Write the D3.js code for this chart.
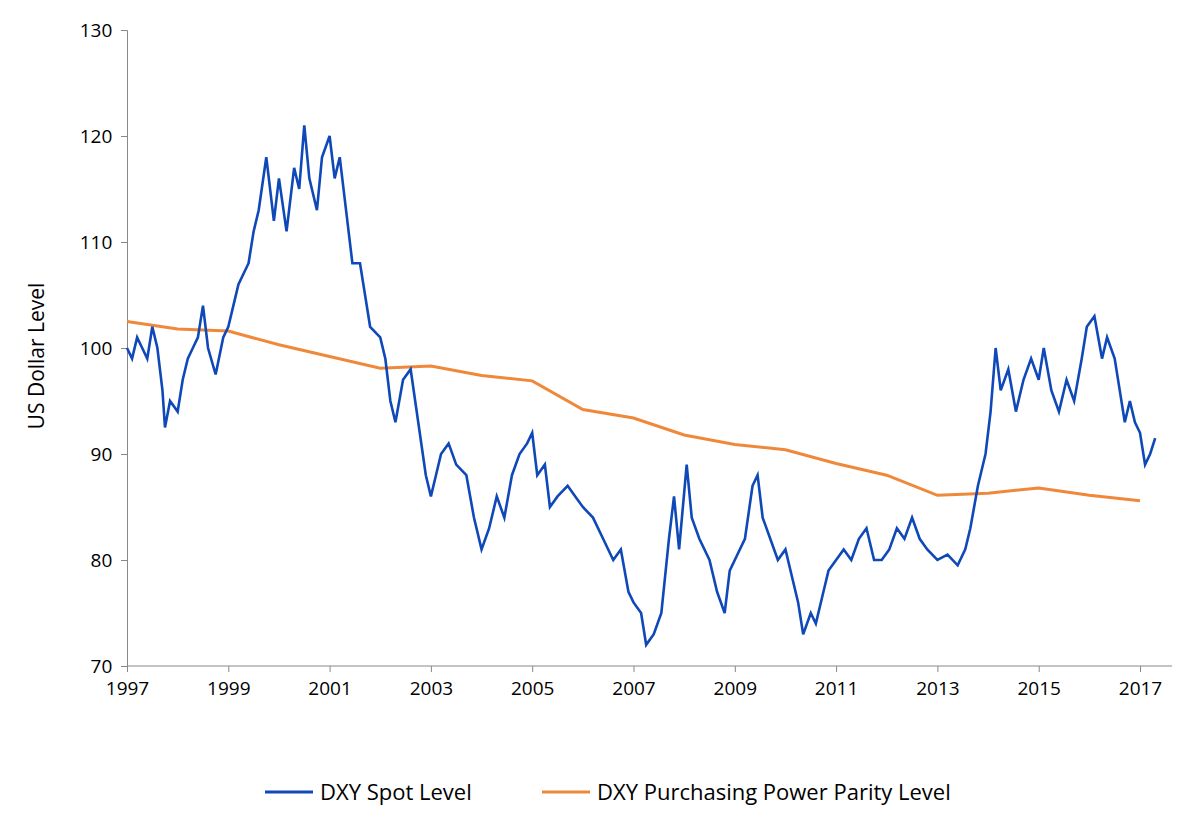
<!DOCTYPE html>
<html>
<head>
<meta charset="utf-8">
<script src="https://cdn.jsdelivr.net/npm/d3@7"></script>
<style>
body { margin: 0; background: #fff; }
text { font-family: "Open Sans", "Noto Sans", sans-serif; fill: #000; }
</style>
</head>
<body>
<div id="chart"></div>
<script>
// spot level (decimal year, value)
var spotYears = [1997.0,1997.1,1997.2,1997.3,1997.4,1997.5,1997.6,1997.7,1997.75,1997.85,1998.0,1998.1,1998.2,1998.3,1998.4,1998.5,1998.6,1998.75,1998.9,1999.0,1999.1,1999.2,1999.4,1999.5,1999.6,1999.75,1999.85,1999.9,2000.0,2000.15,2000.3,2000.4,2000.5,2000.6,2000.75,2000.85,2001.0,2001.1,2001.2,2001.3,2001.45,2001.6,2001.7,2001.8,2002.0,2002.1,2002.2,2002.3,2002.45,2002.6,2002.75,2002.9,2003.0,2003.1,2003.2,2003.35,2003.5,2003.7,2003.85,2004.0,2004.15,2004.3,2004.45,2004.6,2004.75,2004.9,2005.0,2005.1,2005.25,2005.35,2005.5,2005.7,2005.85,2006.0,2006.2,2006.4,2006.6,2006.75,2006.9,2007.0,2007.15,2007.25,2007.4,2007.55,2007.7,2007.8,2007.9,2008.05,2008.15,2008.3,2008.5,2008.65,2008.8,2008.9,2009.0,2009.2,2009.35,2009.45,2009.55,2009.7,2009.85,2010.0,2010.15,2010.25,2010.35,2010.5,2010.6,2010.75,2010.85,2011.0,2011.15,2011.3,2011.45,2011.6,2011.75,2011.9,2012.05,2012.2,2012.35,2012.5,2012.65,2012.8,2013.0,2013.2,2013.4,2013.55,2013.65,2013.8,2013.95,2014.05,2014.15,2014.25,2014.4,2014.55,2014.7,2014.85,2015.0,2015.1,2015.25,2015.4,2015.55,2015.7,2015.85,2015.95,2016.1,2016.25,2016.35,2016.5,2016.6,2016.7,2016.8,2016.9,2017.0,2017.1,2017.2,2017.3];
var spotValues = [100,99,101,100,99,102,100,96,92.5,95,94,97,99,100,101,104,100,97.5,101,102,104,106,108,111,113,118,114,112,116,111,117,115,121,116,113,118,120,116,118,114,108,108,105,102,101,99,95,93,97,98,93,88,86,88,90,91,89,88,84,81,83,86,84,88,90,91,92,88,89,85,86,87,86,85,84,82,80,81,77,76,75,72,73,75,82,86,81,89,84,82,80,77,75,79,80,82,87,88,84,82,80,81,78,76,73,75,74,77,79,80,81,80,82,83,80,80,81,83,82,84,82,81,80,80.5,79.5,81,83,87,90,94,100,96,98,94,97,99,97,100,96,94,97,95,99,102,103,99,101,99,96,93,95,93,92,89,90,91.5];

// purchasing power parity level, yearly
var pppYears = [1997,1998,1999,2000,2001,2002,2003,2004,2005,2006,2007,2008,2009,2010,2011,2012,2013,2014,2015,2016,2017];
var pppValues = [102.5,101.8,101.6,100.3,99.2,98.1,98.3,97.4,96.9,94.2,93.4,91.8,90.9,90.4,89.1,88.0,86.1,86.3,86.8,86.1,85.6];

var xTicks = [1997,1999,2001,2003,2005,2007,2009,2011,2013,2015,2017];
var yTicks = [70,80,90,100,110,120,130];

var svgWidth = 1200, svgHeight = 828;
var svg = d3.select("#chart").append("svg")
    .attr("width", svgWidth)
    .attr("height", svgHeight);

var x = d3.scaleLinear().domain([1997, 2017]).range([127, 1140]);
var y = d3.scaleLinear().domain([70, 130]).range([666, 30]);

// axes
var xAxis = svg.append("g")
    .attr("transform", "translate(0,666)")
    .call(d3.axisBottom(x).tickValues(xTicks).tickFormat(d3.format("d")).tickSizeOuter(0).tickSize(6));
xAxis.select(".domain").attr("d", "M127,0H1172").attr("stroke", "#888");
xAxis.selectAll(".tick line").attr("stroke", "#888");
xAxis.selectAll("text").attr("font-size", 19).attr("dy", "1.05em");

var yAxis = svg.append("g")
    .attr("transform", "translate(127,0)")
    .call(d3.axisLeft(y).tickValues(yTicks).tickSizeOuter(0).tickSize(6));
yAxis.select(".domain").attr("stroke", "#888");
yAxis.selectAll(".tick line").attr("stroke", "#888");
yAxis.selectAll("text").attr("font-size", 19).attr("dx", "-0.3em");

svg.append("text")
    .attr("transform", "translate(44,356) rotate(-90)")
    .attr("text-anchor", "middle")
    .attr("font-size", 21)
    .text("US Dollar Level");

var line = d3.line().x(d => x(d[0])).y(d => y(d[1]));

var ppp = pppYears.map((d, i) => [d, pppValues[i]]);
var spot = spotYears.map((d, i) => [d, spotValues[i]]);

svg.append("path").datum(ppp)
    .attr("d", line).attr("fill", "none")
    .attr("stroke", "#f0883a").attr("stroke-width", 3);

svg.append("path").datum(spot)
    .attr("d", line).attr("fill", "none")
    .attr("stroke", "#0f48b8").attr("stroke-width", 2.6);

// legend
var legend = [["DXY Spot Level", "#0f48b8", 265], ["DXY Purchasing Power Parity Level", "#f0883a", 542]];
legend.forEach(function(l) {
    svg.append("line").attr("x1", l[2]).attr("x2", l[2] + 48)
        .attr("y1", 792).attr("y2", 792)
        .attr("stroke", l[1]).attr("stroke-width", 3);
    svg.append("text").attr("x", l[2] + 55).attr("y", 800)
        .attr("font-size", 22).text(l[0]);
});
</script>
</body>
</html>
